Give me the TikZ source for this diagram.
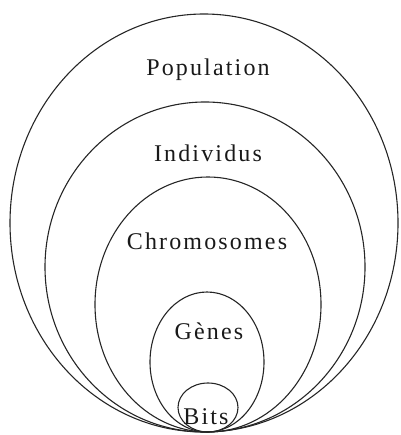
\documentclass[tikz,border=0pt]{standalone}
\usepackage{fontspec}
\setmainfont{Liberation Serif}
\begin{document}
\begin{tikzpicture}[x=1pt,y=-1pt,
  egg/.style={draw=black!85,line width=1.1pt},
  lbl/.style={font=\fontsize{24}{26}\selectfont\addfontfeatures{LetterSpace=9},inner sep=0pt,text=black!90}]
\useasboundingbox (0,0) rectangle (400,435);
% nested ellipses, all touching at the bottom
\draw[egg] (204,223) ellipse [x radius=194, y radius=209];
\draw[egg] (205,267) ellipse [x radius=160, y radius=165];
\draw[egg] (208,304.5) ellipse [x radius=113, y radius=127.5];
\draw[egg] (207,362) ellipse [x radius=57, y radius=70];
\draw[egg] (208,407.5) ellipse [x radius=30, y radius=24.5];
% labels
\node[lbl] (pop) at (208,70) {Population};
\node[lbl] (ind) at (208,153) {Individus};
\node[lbl] (chr) at (207,241) {Chromosomes};
\node[lbl] (gen) at (209,331) {Gènes};
\node[lbl] (bit) at (206,417) {Bits};
\end{tikzpicture}
\end{document}
